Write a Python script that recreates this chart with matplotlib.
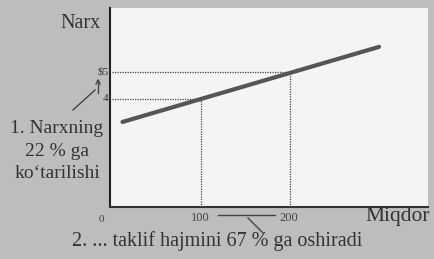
import matplotlib.pyplot as plt

plt.rcParams['font.family'] = ['Liberation Serif', 'DejaVu Serif']

# taklif egri chizig'i (miqdor, narx)
quantity = [12, 300]
price = [3.15, 5.93]

# belgilangan nuqtalar
mark_q = [100, 200]
mark_p = [4, 5]
xtick_labels = ['0', '100', '200']
ytick_labels = ['4', '$5']

fig = plt.figure(figsize=(4.34, 2.59), dpi=100, facecolor='#bdbdbd')
ax = fig.add_axes([110 / 434, 1 - 207 / 259, 318 / 434, 199 / 259])
ax.set_facecolor('#f4f4f4')
ax.set_xlim(-2, 355)
ax.set_ylim(0, 7.37)

ax.plot(quantity, price, color='#555555', lw=3, solid_capstyle='round', zorder=3)

# nuqtali chiziqlar
for q, p in zip(mark_q, mark_p):
    ax.plot([0, q], [p, p], color='#444444', lw=0.9, ls=(0, (1, 1)))
    ax.plot([q, q], [0, p], color='#444444', lw=0.9, ls=(0, (1, 1)))

for s in ['top', 'right']:
    ax.spines[s].set_visible(False)
ax.spines['left'].set_linewidth(1.5)
ax.spines['bottom'].set_linewidth(1.5)
ax.spines['left'].set_color('#222222')
ax.spines['bottom'].set_color('#333333')
ax.set_xticks([])
ax.set_yticks([])

# o'q belgilari
ax.text(-12, -0.3, xtick_labels[0], ha='center', va='top', fontsize=8, color='#444444')
for q, lab in zip(mark_q, xtick_labels[1:]):
    ax.text(q - 1, -0.2, lab, ha='center', va='top', fontsize=9, color='#444444')
for p, lab in zip(mark_p, ytick_labels):
    ax.text(-4, p, lab, ha='right', va='center', fontsize=8, color='#333333')

fig.text(81 / 434, 1 - 24 / 259, 'Narx', ha='center', va='center', fontsize=14.5, color='#333333')
fig.text(398 / 434, 1 - 216 / 259, 'Miqdor', ha='center', va='center', fontsize=15.5, color='#333333')
fig.text(57 / 434, 1 - 151 / 259, "1. Narxning\n22 % ga\nko\u2018tarilishi", ha='center', va='center',
         fontsize=14, color='#333333', linespacing=1.4)
fig.text(217 / 434, 1 - 241 / 259, '2. ... taklif hajmini 67 % ga oshiradi', ha='center', va='center',
         fontsize=14.5, color='#333333')

# strelkalar va chiziqchalar
fig.add_artist(plt.Line2D([73 / 434, 95 / 434], [1 - 110 / 259, 1 - 90 / 259], color='#444444', lw=1))
fig.add_artist(plt.Line2D([98 / 434, 98 / 434], [1 - 93 / 259, 1 - 80 / 259], color='#444444', lw=1))
fig.add_artist(plt.Line2D([96 / 434, 98 / 434, 100 / 434], [1 - 84 / 259, 1 - 80 / 259, 1 - 84 / 259],
                          color='#444444', lw=1))
fig.add_artist(plt.Line2D([218 / 434, 275 / 434], [1 - 215 / 259, 1 - 215 / 259], color='#444444', lw=1))
fig.add_artist(plt.Line2D([248 / 434, 263 / 434], [1 - 218 / 259, 1 - 233 / 259], color='#444444', lw=1))

fig.savefig('out.png', dpi=100, facecolor=fig.get_facecolor())
